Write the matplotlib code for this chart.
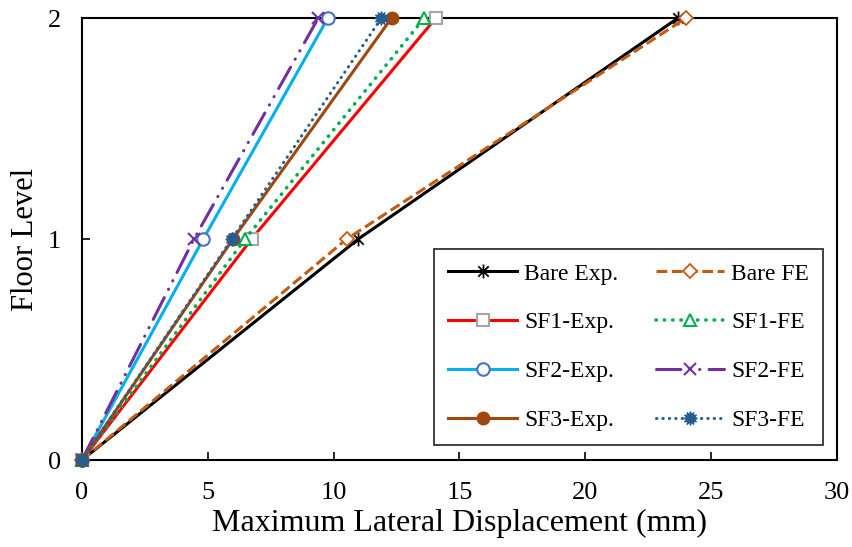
import matplotlib.pyplot as plt
from matplotlib.path import Path

plt.rcParams['font.family'] = ['Liberation Serif', 'DejaVu Serif']

# 楼层
floors = [0, 1, 2]

# 各工况最大侧移 (mm)
bare_exp = [0, 10.98, 23.68]
bare_fe = [0, 10.52, 24.0]
sf1_exp = [0, 6.74, 14.06]
sf1_fe = [0, 6.48, 13.6]
sf2_exp = [0, 4.82, 9.77]
sf2_fe = [0, 4.45, 9.39]
sf3_exp = [0, 6.0, 12.3]
sf3_fe = [0, 5.95, 11.9]

# Excel 风格的星号标记: 竖线 + 交叉
star = Path([(0, -1), (0, 1), (-0.75, -0.75), (0.75, 0.75), (-0.75, 0.75), (0.75, -0.75)],
            [Path.MOVETO, Path.LINETO, Path.MOVETO, Path.LINETO, Path.MOVETO, Path.LINETO])

fig = plt.figure(figsize=(8.52, 5.47), dpi=100)
ax = fig.add_axes([0.0962, 0.159, 0.8862, 0.808])

lw = 2.2
ms = 9

h1, = ax.plot(bare_exp, floors, color='black', lw=lw, marker=star, ms=10,
              mec='black', mew=1.3, label='Bare Exp.', clip_on=False, zorder=3)
h2, = ax.plot(bare_fe, floors, color='#C55A11', lw=lw, ls=(0, (3.5, 1.5)), marker='D', ms=7.5,
              mfc='white', mec='#C55A11', mew=1.3, label='Bare FE', clip_on=False, zorder=3)
h3, = ax.plot(sf1_exp, floors, color='#FF0000', lw=lw, marker='s', ms=ms,
              mfc='white', mec='#A5A5A5', mew=1.5, label='SF1-Exp.', clip_on=False, zorder=3)
h4, = ax.plot(sf1_fe, floors, color='#00B050', lw=lw + 0.4, ls=(0, (0.1, 2.2)), dash_capstyle='round',
              marker='^', ms=ms, mfc='white', mec='#00B050', mew=1.5, label='SF1-FE',
              clip_on=False, zorder=3)
h5, = ax.plot(sf2_exp, floors, color='#00B0F0', lw=lw, marker='o', ms=ms,
              mfc='white', mec='#4472C4', mew=1.5, label='SF2-Exp.', clip_on=False, zorder=3)
h6, = ax.plot(sf2_fe, floors, color='#7030A0', lw=lw, ls=(0, (8, 3, 0.1, 3, 0.1, 3)),
              dash_capstyle='round', marker='x', ms=ms, mec='#7030A0', mew=1.5,
              label='SF2-FE', clip_on=False, zorder=3)
h7, = ax.plot(sf3_exp, floors, color='#9E480E', lw=lw, marker='o', ms=ms,
              mfc='#9E480E', mec='#9E480E', label='SF3-Exp.', clip_on=False, zorder=3)
h8, = ax.plot(sf3_fe, floors, color='#255E91', lw=lw, ls=(0, (0.1, 2.0)), dash_capstyle='round',
              marker=(12, 1, 0), ms=10, mfc='#255E91', mec='#255E91',
              label='SF3-FE', clip_on=False, zorder=3)

ax.set_xlim(0, 30)
ax.set_ylim(0, 2)
ax.set_xticks([0, 5, 10, 15, 20, 25, 30])
ax.set_yticks([0, 1, 2])
ax.tick_params(direction='in', labelsize=19, length=6, width=1.2)
ax.tick_params(axis='x', pad=16)
ax.tick_params(axis='y', pad=15)
for s in ax.spines.values():
    s.set_linewidth(1.5)

ax.set_xlabel('Maximum Lateral Displacement (mm)', fontsize=23, labelpad=3)
ax.set_ylabel('Floor Level', fontsize=22, labelpad=6)

# 图例按行排列: 每行 Exp 与 FE 成对
handles = [h1, h3, h5, h7, h2, h4, h6, h8]
leg = ax.legend(handles=handles, ncol=2, loc='lower right', bbox_to_anchor=(0.982, 0.033),
                fontsize=17, frameon=True, fancybox=False, edgecolor='black', handlelength=2.9,
                labelspacing=1.16, columnspacing=1.6, handletextpad=0.3,
                borderpad=0.6, borderaxespad=0)
leg.get_frame().set_linewidth(1.3)

fig.savefig('out.png', dpi=100)
